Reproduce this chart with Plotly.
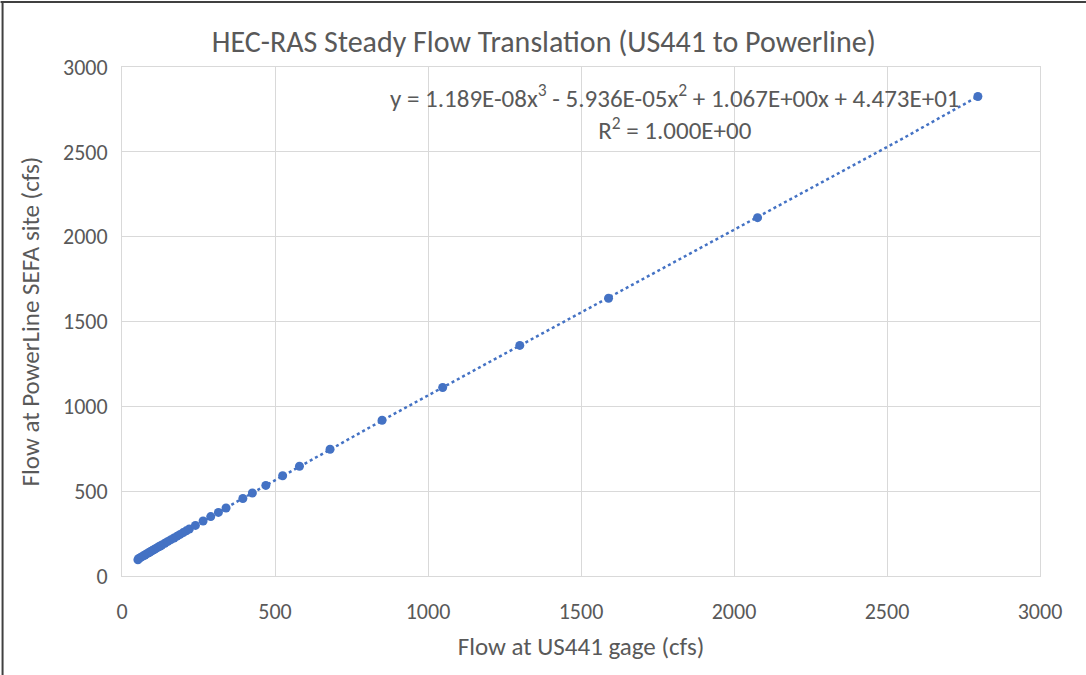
import numpy as np
import plotly.graph_objects as go

# Flow at US441 gage (cfs)
us441_flow = [52, 55, 60, 65, 70, 75, 80, 85, 90, 95, 100, 105, 110, 115, 120, 125, 130,
              140, 150, 160, 170, 180, 190, 200, 210, 220, 240, 265, 290, 315, 340,
              395, 426, 470, 525, 580, 680, 850, 1048, 1300, 1590, 2077, 2797]
# Flow at PowerLine SEFA site (cfs)
powerline_flow = [96, 103, 108, 114, 119, 124, 130, 135, 140, 146, 151, 156, 161, 167, 172, 177, 182,
                  193, 204, 214, 224, 235, 245, 256, 266, 277, 298, 324, 350, 375, 401,
                  457, 489, 534, 591, 647, 747, 918, 1111, 1359, 1637, 2112, 2826]

x_ticks = [0, 500, 1000, 1500, 2000, 2500, 3000]
y_ticks = [0, 500, 1000, 1500, 2000, 2500, 3000]

title_text = "HEC-RAS Steady Flow Translation (US441 to Powerline)"
x_title = "Flow at US441 gage (cfs)"
y_title = "Flow at PowerLine SEFA site (cfs)"
eq_text = ("y = 1.189E-08x<sup>3</sup> - 5.936E-05x<sup>2</sup> + 1.067E+00x + 4.473E+01"
           "<br>R<sup>2</sup> = 1.000E+00")

FONT = "Carlito, Lato, 'Open Sans', sans-serif"
BLUE = "#4472C4"
GRID = "#d9d9d9"
TXT = "#595959"

L, R, T, B = 121.5, 1040, 67, 576
W, H = 1086, 675

xa = np.array(us441_flow, dtype=float)
ya = np.array(powerline_flow, dtype=float)
coef = np.polyfit(xa, ya, 3)
xt = np.linspace(xa.min(), xa.max(), 400)
yt = np.polyval(coef, xt)

fig = go.Figure()
fig.add_trace(go.Scatter(x=xt, y=yt, mode="lines",
                         line=dict(color=BLUE, width=2.5, dash="dot"),
                         hoverinfo="skip", showlegend=False))
fig.add_trace(go.Scatter(x=us441_flow, y=powerline_flow, mode="markers",
                         marker=dict(color=BLUE, size=9, line=dict(width=0)),
                         showlegend=False))

def px(xp):
    return (xp - L) / (R - L)

def py(yp):
    return (B - yp) / (B - T)

fig.update_layout(
    width=W, height=H,
    margin=dict(l=L, r=W - R, t=T, b=H - B),
    paper_bgcolor="white", plot_bgcolor="white",
    font=dict(family=FONT, size=22, color=TXT),
    title=dict(text=title_text, x=px(543.5), xref="paper", xanchor="center",
               y=1 - 41 / H, yanchor="middle", yref="container",
               font=dict(family=FONT, size=30, color=TXT)),
    xaxis=dict(range=[0, 3000], tickvals=x_ticks, showgrid=True, gridcolor=GRID,
               gridwidth=1, zeroline=False, showline=True, linecolor=GRID, mirror=True,
               ticks="", tickfont=dict(size=22, color=TXT), ticklabelstandoff=16,
               title=dict(text=x_title, font=dict(size=25, color=TXT), standoff=13)),
    yaxis=dict(range=[0, 3000], tickvals=y_ticks, showgrid=True, gridcolor=GRID,
               gridwidth=1, zeroline=False, showline=True, linecolor=GRID, mirror=True,
               ticks="", tickfont=dict(size=22, color=TXT), ticklabelstandoff=9,
               title=dict(text=y_title, font=dict(size=25, color=TXT), standoff=16)),
    annotations=[dict(text=eq_text, xref="paper", yref="paper",
                      x=px(675), y=py(112),
                      xanchor="center", yanchor="middle", align="center",
                      showarrow=False, font=dict(family=FONT, size=25, color=TXT))],
    shapes=[
        dict(type="line", xref="paper", yref="paper",
             x0=px(0), x1=px(W), y0=py(2), y1=py(2),
             line=dict(color="#404040", width=2)),
        dict(type="line", xref="paper", yref="paper",
             x0=px(2), x1=px(2), y0=py(2), y1=py(H),
             line=dict(color="#404040", width=2)),
    ],
)

fig.write_html("out.html", config={"displayModeBar": False},
               post_script="document.body.style.margin='0';document.body.style.overflow='hidden';")
